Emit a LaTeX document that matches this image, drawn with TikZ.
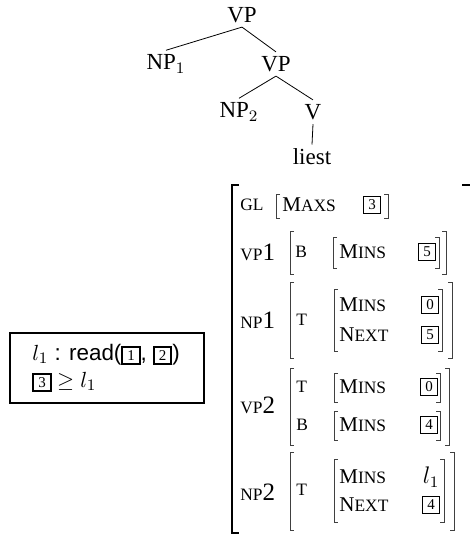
\documentclass[tikz,border=0pt]{standalone}
\usepackage{fontspec}
\setmainfont{Liberation Serif}
\setsansfont{Liberation Sans}

\newcommand{\smc}[1]{{\fontsize{8.7}{9}\selectfont #1}}
\newcommand{\feat}[2]{#1\smc{#2}}
\newcommand{\tagno}[1]{{\setlength{\fboxsep}{1.1pt}\setlength{\fboxrule}{1pt}\fbox{\rmfamily\fontsize{7.5}{8}\selectfont\makebox[5.4pt]{#1}}}}
\newcommand{\avmL}[3]{\draw[brack] ({#1+4},#2) -- (#1,#2) -- (#1,#3) -- ({#1+4},#3);}
\newcommand{\avmR}[3]{\draw[brack] ({#1-4},#2) -- (#1,#2) -- (#1,#3) -- ({#1-4},#3);}

\tikzset{
  cat/.style={font=\fontsize{11.5}{13}\selectfont, inner sep=2pt},
  lbl/.style={anchor=west, inner sep=0pt, font=\fontsize{12.5}{13}\selectfont},
  attr/.style={anchor=west, inner sep=0pt, font=\fontsize{10.5}{11}\selectfont},
  tagb/.style={draw, line width=0.9pt, inner sep=0.8pt, minimum size=8.5pt, font=\fontsize{7.5}{8}\selectfont},
  brack/.style={line width=0.45pt, draw=black!75},
}

\begin{document}
\begin{tikzpicture}[x=0.5pt,y=-0.5pt]
\useasboundingbox (0,0) rectangle (470,535);

% tree
\node[cat] (vp) at (242,15) {VP};
\node[cat] (np1) at (166,64) {NP$_1$};
\node[cat] (vp2c) at (276,64) {VP};
\node[cat] (np2) at (239,112) {NP$_2$};
\node[cat] (v) at (313,112) {V};
\node[cat] (liest) at (312,157) {liest};
\draw (vp.south) -- (np1.north);
\draw (vp.south) -- (vp2c.north);
\draw (vp2c.south) -- (np2.north);
\draw (vp2c.south) -- (v.north);
\draw (v.south) -- (liest.north);

% constraints
\node[draw, line width=1pt, minimum width=97pt, minimum height=35pt] (cons) at (107,368) {};
\node[anchor=west, inner sep=0pt, align=left, font=\fontsize{11.2}{11.2}\selectfont] (constext) at (32,368)
  {{\sffamily $l_1$ : read(\tagno{1}, \tagno{2})}\\[2.2pt] \tagno{3} $\geq l_1$};

% avm
\draw[brack, line width=0.6pt, draw=black] (239,185) -- (232,185) -- (232,533) -- (239,533);
\draw[brack, line width=0.6pt, draw=black] (462,185) -- (470,185);

% GL
\node[lbl] (gl) at (240,205) {\smc{GL}};
\avmL{276}{194}{218}
\node[attr] (maxs) at (282,205) {\feat{M}{AXS}};
\node[tagb] (t3) at (372,205) {3};
\avmR{388}{194}{218}

% VP1
\node[lbl] (vp1) at (240,252) {\smc{VP}1};
\avmL{290}{231}{274}
\node[attr] (b1) at (295,252) {\smc{B}};
\avmL{333}{237}{268}
\node[attr] (mins1) at (339,252) {\feat{M}{INS}};
\node[tagb] (t5a) at (427,252) {5};
\avmR{439}{237}{268}
\avmR{446}{231}{274}

% NP1
\node[lbl] (np1f) at (240,320) {\smc{NP}1};
\avmL{290}{282}{358}
\node[attr] (tp1) at (296,320) {\smc{T}};
\avmL{334}{289}{351}
\node[attr] (mins2) at (339,305) {\feat{M}{INS}};
\node[attr] (next1) at (339,335) {\feat{N}{EXT}};
\node[tagb] (t0a) at (430,305) {0};
\node[tagb] (t5b) at (430,335) {5};
\avmR{442}{289}{351}
\avmR{452}{282}{358}

% VP2
\node[lbl] (vp2) at (240,405) {\smc{VP}2};
\avmL{290}{368}{445}
\node[attr] (tv2) at (296,387) {\smc{T}};
\node[attr] (bv2) at (296,425) {\smc{B}};
\avmL{334}{373}{402}
\avmL{334}{411}{440}
\node[attr] (mins3) at (339,387) {\feat{M}{INS}};
\node[attr] (mins4) at (339,425) {\feat{M}{INS}};
\node[tagb] (t0b) at (429,387) {0};
\node[tagb] (t4a) at (429,425) {4};
\avmR{440}{373}{402}
\avmR{440}{411}{440}
\avmR{449}{368}{445}

% NP2
\node[lbl] (np2f) at (240,492) {\smc{NP}2};
\avmL{290}{452}{530}
\node[attr] (tn2) at (296,490) {\smc{T}};
\avmL{334}{459}{522}
\node[attr] (mins5) at (339,477) {\feat{M}{INS}};
\node[attr] (next2) at (339,505) {\feat{N}{EXT}};
\node[font=\fontsize{12}{13}\selectfont, inner sep=0pt] (l1) at (431,477) {$l_1$};
\node[tagb] (t4b) at (431,505) {4};
\avmR{444}{459}{522}
\avmR{454}{452}{530}
\end{tikzpicture}
\end{document}
